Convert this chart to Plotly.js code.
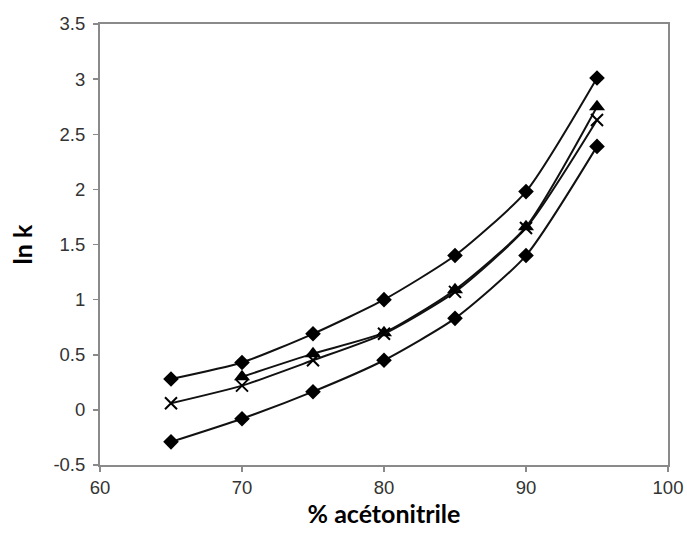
<!DOCTYPE html>
<html>
<head>
<meta charset="utf-8">
<script src="https://cdn.plot.ly/plotly-3.0.1.min.js"></script>
<style>html,body{margin:0;padding:0;background:#fff;}#chart{width:687px;height:538px;}</style>
</head>
<body>
<div id="chart"></div>
<script>
const acetonitrile = [65, 70, 75, 80, 85, 90, 95];
const seriesTop = [0.28, 0.43, 0.69, 1.00, 1.40, 1.98, 3.01];
const triX = [70, 75, 80, 85, 90, 95];
const seriesTri = [0.30, 0.51, 0.70, 1.09, 1.66, 2.75];
const seriesCross = [0.06, 0.22, 0.45, 0.69, 1.07, 1.65, 2.63];
const seriesBottom = [-0.29, -0.08, 0.165, 0.45, 0.83, 1.40, 2.39];
const xTicks = [60, 70, 80, 90, 100];
const yTicks = [-0.5, 0, 0.5, 1, 1.5, 2, 2.5, 3, 3.5];

const lineStyle = {color: '#111', width: 2, shape: 'spline', smoothing: 0.6};
const traces = [
  {x: acetonitrile, y: seriesTop, mode: 'lines+markers', line: lineStyle,
   marker: {symbol: 'diamond', size: 12, color: '#000'}},
  {x: triX, y: seriesTri, mode: 'lines+markers', line: lineStyle,
   marker: {symbol: 'triangle-up', size: 14, color: '#000'}},
  {x: acetonitrile, y: seriesCross, mode: 'lines+markers', line: lineStyle,
   marker: {symbol: 'x-thin', size: 12, color: '#000', line: {color: '#000', width: 2}}},
  {x: acetonitrile, y: seriesBottom, mode: 'lines+markers', line: lineStyle,
   marker: {symbol: 'diamond', size: 12, color: '#000'}}
];

const axisCommon = {
  showgrid: false, zeroline: false, showline: true, linecolor: '#8a8a8a', linewidth: 2,
  mirror: true, ticks: 'outside', ticklen: 5, tickwidth: 1.5, tickcolor: '#8a8a8a',
  tickfont: {family: 'Liberation Sans, Arial, sans-serif', size: 18.5, color: '#333'}
};

const titleFont = {family: 'Lato, Open Sans, sans-serif', size: 25, color: '#000', weight: 'bold'};

const layout = {
  width: 687, height: 538,
  margin: {l: 100, r: 19, t: 24, b: 73},
  paper_bgcolor: '#fff', plot_bgcolor: '#fff',
  showlegend: false,
  xaxis: Object.assign({}, axisCommon, {
    range: [60, 100], tickvals: xTicks, ticktext: xTicks.map(String),
    title: {text: '% acétonitrile', font: titleFont, standoff: 6}
  }),
  yaxis: Object.assign({}, axisCommon, {
    range: [-0.5, 3.5], tickvals: yTicks, ticktext: yTicks.map(String),
    ticklabelstandoff: 4,
    title: {text: 'ln k', font: titleFont, standoff: 14}
  })
};

Plotly.newPlot('chart', traces, layout, {displayModeBar: false, staticPlot: true});
</script>
</body>
</html>
